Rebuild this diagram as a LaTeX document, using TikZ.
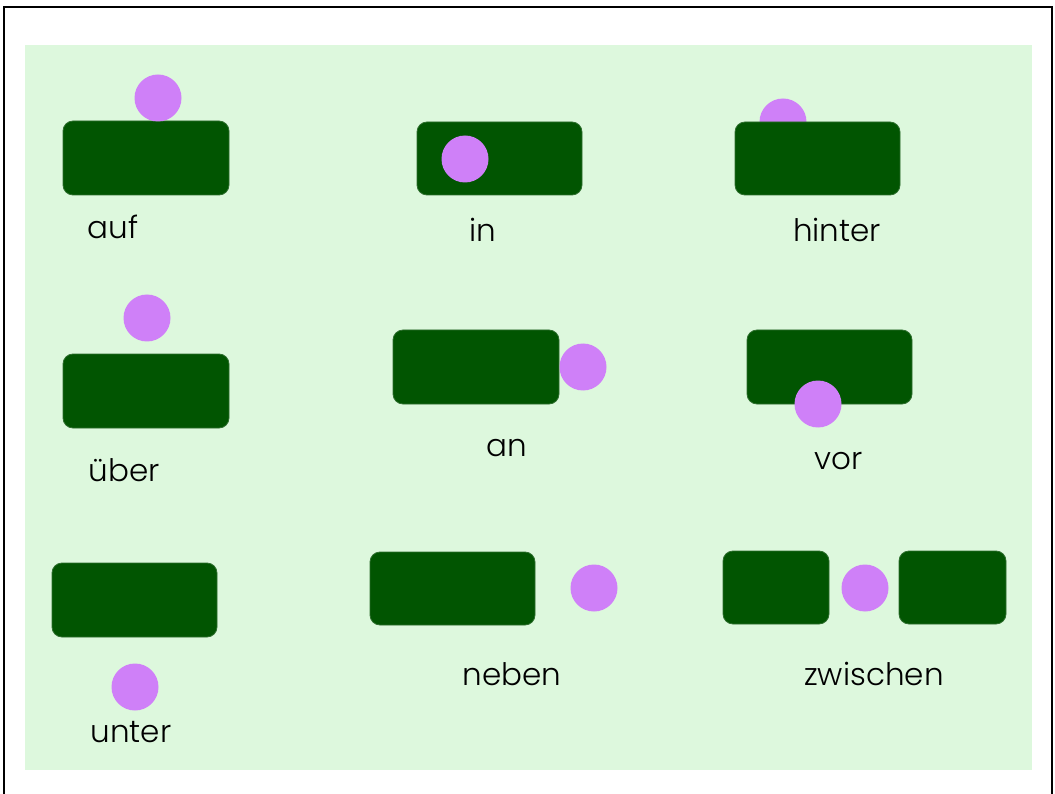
\documentclass[tikz,border=0pt]{standalone}
\usepackage{fontspec}
\setmainfont{Poppins Light}
\definecolor{bggreen}{HTML}{DDF8DD}
\definecolor{boxgreen}{HTML}{015501}
\definecolor{boxedge}{HTML}{2E6E2E}
\definecolor{ball}{HTML}{CF80F8}
\tikzset{
  box/.style={fill=boxgreen, draw=boxedge, line width=0.8pt, rounded corners=10pt},
  ball/.style={circle, fill=ball, inner sep=0pt, minimum size=47pt},
  word/.style={anchor=base, inner sep=0pt, font=\fontsize{31}{36}\selectfont}
}
\begin{document}
\begin{tikzpicture}[x=1pt,y=-1pt]
\useasboundingbox (0,0) rectangle (1055,794);
% frame and background
\fill[white] (0,0) rectangle (1055,794);
\draw[line width=2pt] (4,7) rectangle (1052,820);
\fill[bggreen] (25,45) rectangle (1032,770);

% auf
\draw[box] (63,121) rectangle (229,195);
\node[ball] (c1) at (158,98) {};
\node[word] (t1) at (113,239) {auf};

% in
\draw[box] (417,122) rectangle (582,195);
\node[ball] (c2) at (465,159) {};
\node[word] (t2) at (483,242) {in};

% hinter
\node[ball] (c3) at (783,122) {};
\draw[box] (735,122) rectangle (900,195);
\node[word] (t3) at (837,242) {hinter};

% über
\draw[box] (63,354) rectangle (229,428);
\node[ball] (c4) at (147,318) {};
\node[word] (t4) at (124,481) {über};

% an
\draw[box] (393,330) rectangle (559,404);
\node[ball] (c5) at (583,367) {};
\node[word] (t5) at (507,456) {an};

% vor
\draw[box] (747,330) rectangle (912,404);
\node[ball] (c6) at (818,404) {};
\node[word] (t6) at (839,469) {vor};

% unter
\draw[box] (52,563) rectangle (217,637);
\node[ball] (c7) at (135,687) {};
\node[word] (t7) at (131,742) {unter};

% neben
\draw[box] (370,552) rectangle (535,625);
\node[ball] (c8) at (594,588) {};
\node[word] (t8) at (512,685) {neben};

% zwischen
\draw[box] (723,551) rectangle (829,624);
\draw[box] (899,551) rectangle (1006,624);
\node[ball] (c9) at (865,588) {};
\node[word] (t9) at (874,685) {zwischen};
\end{tikzpicture}
\end{document}
